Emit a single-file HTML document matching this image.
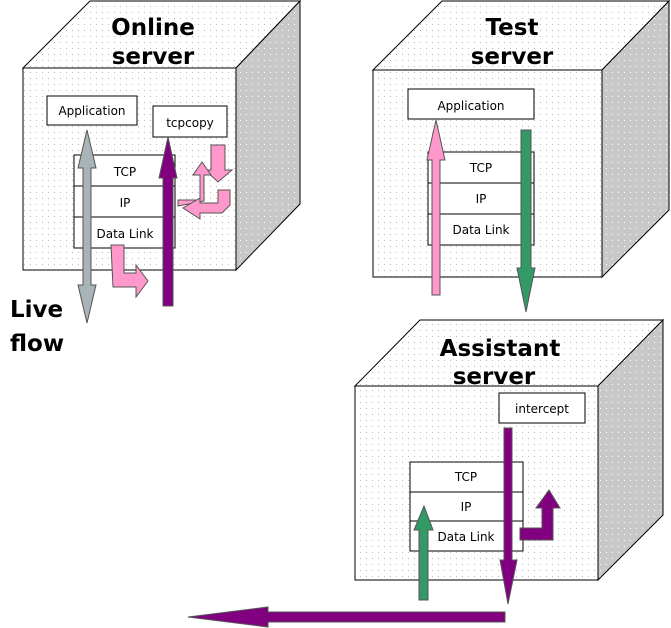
<!DOCTYPE html>
<html><head><meta charset="utf-8"><style>
html,body{margin:0;padding:0;background:#fff;width:671px;height:628px;overflow:hidden}
svg{display:block}
text{font-family:"DejaVu Sans","Liberation Sans",sans-serif}
.t{font-weight:bold;font-size:23px;fill:#000}
.s{font-size:12px;fill:#000}
</style></head><body>
<svg width="671" height="628" viewBox="0 0 671 628" xmlns="http://www.w3.org/2000/svg">
<defs>
<pattern id="d" width="6" height="6" patternUnits="userSpaceOnUse"><rect width="6" height="6" fill="#fff"/><rect x="0" y="0" width="1" height="1" fill="#bbb"/></pattern>
<pattern id="g" width="6" height="6" patternUnits="userSpaceOnUse"><rect width="6" height="6" fill="#c8c8c8"/><rect x="0" y="0" width="1" height="1" fill="#fff"/></pattern>
</defs>
<g stroke="#000" stroke-width="1">
<!-- Online cube -->
<polygon points="23,68 90,1 300,1 236,68" fill="url(#d)"/>
<polygon points="236,68 300,1 300,204 236,270" fill="url(#g)"/>
<rect x="23" y="68" width="213" height="202" fill="url(#d)"/>
<!-- Test cube -->
<polygon points="373,70 442,1 669,1 602,70" fill="url(#d)"/>
<polygon points="602,70 669,1 669,210 602,277" fill="url(#g)"/>
<rect x="373" y="70" width="229" height="207" fill="url(#d)"/>
<!-- Assistant cube -->
<polygon points="355,386 420,320 663,320 598,386" fill="url(#d)"/>
<polygon points="598,386 663,320 663,515 598,580" fill="url(#g)"/>
<rect x="355" y="386" width="243" height="194" fill="url(#d)"/>
<!-- boxes -->
<rect x="47" y="96" width="90" height="29" fill="#fff"/>
<rect x="153" y="106" width="74" height="31" fill="#fff"/>
<rect x="74" y="155" width="101" height="31" fill="#fff"/>
<rect x="74" y="186" width="101" height="31" fill="#fff"/>
<rect x="74" y="217" width="101" height="31" fill="#fff"/>
<rect x="408" y="89" width="126" height="30" fill="#fff"/>
<rect x="428" y="152" width="106" height="31" fill="#fff"/>
<rect x="428" y="183" width="106" height="31" fill="#fff"/>
<rect x="428" y="214" width="106" height="31" fill="#fff"/>
<rect x="499" y="393" width="86" height="30" fill="#fff"/>
<rect x="410" y="462" width="113" height="30" fill="#fff"/>
<rect x="410" y="492" width="113" height="29" fill="#fff"/>
<rect x="410" y="521" width="113" height="30" fill="#fff"/>
</g>
<text class="t" x="153" y="35" text-anchor="middle">Online</text>
<text class="t" x="153" y="64" text-anchor="middle">server</text>
<text class="t" x="512" y="35" text-anchor="middle">Test</text>
<text class="t" x="512" y="64" text-anchor="middle">server</text>
<text class="t" x="500" y="356" text-anchor="middle">Assistant</text>
<text class="t" x="494" y="384" text-anchor="middle">server</text>
<text class="t" x="10" y="317">Live</text>
<text class="t" x="10" y="351">flow</text>
<text class="s" x="92" y="115" text-anchor="middle">Application</text>
<text class="s" x="190" y="127" text-anchor="middle">tcpcopy</text>
<text class="s" x="125" y="176" text-anchor="middle">TCP</text>
<text class="s" x="125" y="207" text-anchor="middle">IP</text>
<text class="s" x="125" y="238" text-anchor="middle">Data Link</text>
<text class="s" x="471" y="110" text-anchor="middle">Application</text>
<text class="s" x="481" y="172" text-anchor="middle">TCP</text>
<text class="s" x="481" y="203" text-anchor="middle">IP</text>
<text class="s" x="481" y="234" text-anchor="middle">Data Link</text>
<text class="s" x="542" y="413" text-anchor="middle">intercept</text>
<text class="s" x="466" y="481" text-anchor="middle">TCP</text>
<text class="s" x="466" y="511" text-anchor="middle">IP</text>
<text class="s" x="466" y="541" text-anchor="middle">Data Link</text>
<g stroke="#555" stroke-width="1">
<!-- gray double arrow -->
<polygon points="87,130 96,168 91,168 91,285 96,285 87,323 78,285 83,285 83,168 78,168" fill="#a8b4b8"/>
<!-- purple up arrow online -->
<polygon points="168,137 177,178 173,178 173,306 163,306 163,178 159,178" fill="#800080"/>
<!-- pink L arrow -->
<polygon points="111,245 124,245 124,273 136,273 136,265 148,281 136,297 136,287 113,287" fill="#ff99cc"/>
<!-- pink small arrows -->
<polygon points="211,145 225,145 225,170 232,170 218,182 205,170 211,170" fill="#ff99cc"/>
<polygon points="178,200 200,200 200,175 193,175 202,162 211,175 204,175 204,201 178,206" fill="#ff99cc"/>
<polygon points="218,190 230,190 230,205 222,213 200,213 200,219 183,208 200,198 200,203 218,203" fill="#ff99cc"/>
<!-- test pink up -->
<polygon points="436,120 445,160 440,160 440,295 432,295 432,160 427,160" fill="#ff99cc"/>
<!-- test green down -->
<polygon points="521,130 531,130 531,268 535,268 526,312 517,268 521,268" fill="#339966"/>
<!-- assistant purple down -->
<polygon points="504,428 512,428 512,560 517,560 508,604 500,560 504,560" fill="#800080"/>
<!-- assistant green up -->
<polygon points="424,506 433,530 428,530 428,600 419,600 419,530 414,530" fill="#339966"/>
<!-- assistant purple L -->
<polygon points="520,528 542,528 542,508 536,508 549,490 560,508 553,508 553,540 520,540" fill="#800080"/>
<!-- horizontal purple -->
<polygon points="505,612 505,622 268,622 268,627 188,617 268,607 268,612" fill="#800080"/>
</g>
</svg>
</body></html>
